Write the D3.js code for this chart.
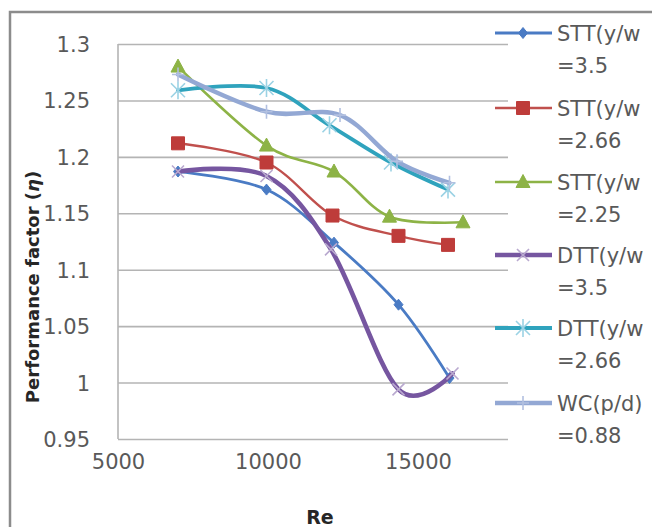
<!DOCTYPE html>
<html>
<head>
<meta charset="utf-8">
<script src="https://cdn.jsdelivr.net/npm/d3@7"></script>
<style>
  body { margin: 0; background: #fff; }
  svg { display: block; }
</style>
</head>
<body>
<svg width="652" height="527"></svg>
<script>
// values
var seriesNames = ["STT(y/w", "STT(y/w", "STT(y/w", "DTT(y/w", "DTT(y/w", "WC(p/d)"];
var seriesSub = ["=3.5", "=2.66", "=2.25", "=3.5", "=2.66", "=0.88"];

var reSTT35 = [7000, 9950, 12200, 14350, 16050];
var etaSTT35 = [1.187, 1.171, 1.124, 1.069, 1.004];

var reSTT266 = [7000, 9950, 12150, 14350, 16000];
var etaSTT266 = [1.212, 1.195, 1.148, 1.130, 1.122];

var reSTT225 = [7000, 9950, 12200, 14050, 16500];
var etaSTT225 = [1.280, 1.210, 1.187, 1.147, 1.142];

var reDTT35 = [7000, 9950, 12100, 14350, 16150];
var etaDTT35 = [1.187, 1.183, 1.118, 0.994, 1.008];

var reDTT266 = [7000, 9950, 12050, 14100, 16000];
var etaDTT266 = [1.259, 1.261, 1.228, 1.195, 1.171];

var reWC = [7000, 9950, 12400, 14300, 16050];
var etaWC = [1.273, 1.240, 1.237, 1.196, 1.177];

var xTicks = [5000, 10000, 15000];
var yTicks = [0.95, 1, 1.05, 1.1, 1.15, 1.2, 1.25, 1.3];
var yTickLabels = ["0.95", "1", "1.05", "1.1", "1.15", "1.2", "1.25", "1.3"];

var svg = d3.select("svg");

// chart frame
svg.append("rect")
  .attr("x", 10).attr("y", 12)
  .attr("width", 700).attr("height", 600)
  .attr("fill", "none")
  .attr("stroke", "#8c8c8c")
  .attr("stroke-width", 2.5);

var x = d3.scaleLinear().domain([5000, 18000]).range([118, 508]);
var y = d3.scaleLinear().domain([0.95, 1.3]).range([439, 44]);

var font = "DejaVu Sans, sans-serif";

// y axis with gridlines
var gy = svg.append("g")
  .attr("transform", "translate(118,0)")
  .call(d3.axisLeft(y).tickValues(yTicks)
    .tickSize(-390).tickPadding(28)
    .tickFormat(function(d, i) { return yTickLabels[i]; }));
gy.select(".domain").remove();
gy.selectAll(".tick line").attr("stroke", "#b4b4b4").attr("stroke-width", 1.6);
gy.selectAll(".tick text")
  .attr("font-family", font).attr("font-size", "21px").attr("fill", "#595959")
  .attr("dy", "0.36em");

// y axis line
svg.append("line")
  .attr("x1", 118).attr("x2", 118).attr("y1", 44).attr("y2", 439)
  .attr("stroke", "#b4b4b4").attr("stroke-width", 1.6);

// x axis labels
var gx = svg.append("g")
  .attr("transform", "translate(0,439)")
  .call(d3.axisBottom(x).tickValues(xTicks).tickSize(0).tickPadding(30)
    .tickFormat(function(d) { return d; }));
gx.select(".domain").remove();
gx.selectAll(".tick text")
  .attr("font-family", font).attr("font-size", "21px").attr("fill", "#595959")
  .attr("dy", "0");

// axis titles
svg.append("text")
  .attr("x", 320).attr("y", 517)
  .attr("dy", "0.35em")
  .attr("text-anchor", "middle")
  .attr("font-family", font).attr("font-size", "19px").attr("font-weight", "bold")
  .attr("fill", "#262626")
  .text("Re");

var yt = svg.append("text")
  .attr("transform", "translate(39,287) rotate(-90)")
  .attr("text-anchor", "middle")
  .attr("font-family", font).attr("font-size", "18px").attr("font-weight", "bold")
  .attr("fill", "#262626");
yt.append("tspan").text("Performance factor (");
yt.append("tspan").attr("font-style", "italic").text("η");
yt.append("tspan").text(")");

// markers
function marker(kind) {
  if (kind == "diamond") return "M0,-5.5L4.5,0L0,5.5L-4.5,0Z";
  if (kind == "square") return "M-6.5,-6.5H6.5V6.5H-6.5Z";
  if (kind == "triangle") return "M0,-7.5L7,5.5L-7,5.5Z";
  if (kind == "x") return "M-6,-6L6,6M-6,6L6,-6";
  if (kind == "star") return "M-7,-7L7,7M-7,7L7,-7M0,-9V9";
  if (kind == "plus") return "M0,-7V7M-6,0H6";
}

var series = [
  { re: reSTT35, eta: etaSTT35, line: "#4a7bc4", w: 2.8, mk: "diamond", mfill: "#4a7bc4", mstroke: "#4a7bc4" },
  { re: reSTT266, eta: etaSTT266, line: "#c0504d", w: 2.4, mk: "square", mfill: "#be3c3a", mstroke: "#be3c3a" },
  { re: reSTT225, eta: etaSTT225, line: "#8db346", w: 2.6, mk: "triangle", mfill: "#8db346", mstroke: "#8db346" },
  { re: reDTT35, eta: etaDTT35, line: "#7656a0", w: 4.6, mk: "x", mfill: "none", mstroke: "#b9a9cf" },
  { re: reDTT266, eta: etaDTT266, line: "#2fa3bd", w: 3.8, mk: "star", mfill: "none", mstroke: "#9bd2e4" },
  { re: reWC, eta: etaWC, line: "#93a8d4", w: 4.4, mk: "plus", mfill: "none", mstroke: "#b2c0e0" }
];

var line = d3.line()
  .x(function(d) { return x(d[0]); })
  .y(function(d) { return y(d[1]); })
  .curve(d3.curveCardinal.tension(0));

series.forEach(function(s) {
  var pts = s.re.map(function(r, i) { return [r, s.eta[i]]; });
  svg.append("path")
    .attr("d", line(pts))
    .attr("fill", "none")
    .attr("stroke", s.line)
    .attr("stroke-width", s.w)
    .attr("stroke-linecap", "round");
  svg.selectAll(null)
    .data(pts)
    .enter().append("path")
    .attr("transform", function(d) { return "translate(" + x(d[0]) + "," + y(d[1]) + ")"; })
    .attr("d", marker(s.mk))
    .attr("fill", s.mfill)
    .attr("stroke", s.mstroke)
    .attr("stroke-width", s.mfill == "none" ? 1.6 : 1);
});

// legend
var legY = [33, 108, 182, 255, 328, 403];
series.forEach(function(s, i) {
  var g = svg.append("g").attr("transform", "translate(0," + legY[i] + ")");
  g.append("line")
    .attr("x1", 495).attr("x2", 552)
    .attr("stroke", s.line).attr("stroke-width", s.w);
  g.append("path")
    .attr("transform", "translate(523,0)")
    .attr("d", marker(s.mk))
    .attr("fill", s.mfill)
    .attr("stroke", s.mstroke)
    .attr("stroke-width", s.mfill == "none" ? 1.6 : 1);
  g.append("text")
    .attr("x", 557).attr("y", 0).attr("dy", "0.36em")
    .attr("font-family", font).attr("font-size", "21px").attr("fill", "#595959")
    .text(seriesNames[i]);
  g.append("text")
    .attr("x", 557).attr("y", 32).attr("dy", "0.36em")
    .attr("font-family", font).attr("font-size", "21px").attr("fill", "#595959")
    .text(seriesSub[i]);
});
</script>
</body>
</html>
